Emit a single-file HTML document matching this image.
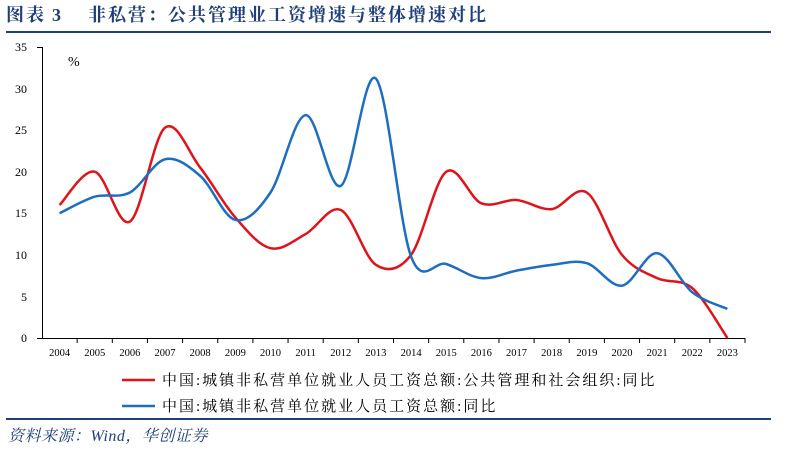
<!DOCTYPE html>
<html><head><meta charset="utf-8"><style>
body{margin:0;width:795px;height:448px;background:#fff;overflow:hidden;font-family:"Liberation Serif","Noto Serif CJK SC",serif}
</style></head><body>
<svg width="795" height="448" xmlns="http://www.w3.org/2000/svg" id="s">
<g font-family="'Liberation Serif','Noto Serif CJK SC',serif" font-weight="bold" font-size="18" fill="#1f3f7a">
<text x="6" y="21" letter-spacing="2">图表</text>
<text x="52" y="21">3</text>
<text x="88" y="21" letter-spacing="2">非私营：公共管理业工资增速与整体增速对比</text>
</g>
<rect x="6" y="31" width="765" height="2" fill="#1f3f7a"/>
<g font-size="12" fill="#000" text-anchor="end" font-family="'Liberation Serif',serif">
<text x="27" y="51">35</text><text x="27" y="93">30</text><text x="27" y="134">25</text><text x="27" y="176">20</text><text x="27" y="217">15</text><text x="27" y="259">10</text><text x="27" y="301">5</text><text x="27" y="342">0</text>
</g>
<text x="68" y="66" font-size="14" font-family="'Liberation Serif',serif">%</text>
<g stroke="#000" stroke-width="1" fill="none">
<line x1="42.5" y1="47" x2="42.5" y2="338"/>
<line x1="37" y1="47.5" x2="42" y2="47.5"/>
<line x1="37" y1="338.5" x2="745" y2="338.5"/>
</g>
<g id="g1"></g>
<path id="red" fill="none" stroke="#e0131a" stroke-width="2.5"/>
<path id="blue" fill="none" stroke="#1e6ec0" stroke-width="2.5"/>
<line x1="122" y1="380" x2="155" y2="380" stroke="#e0131a" stroke-width="2.5"/>
<line x1="122" y1="406" x2="155" y2="406" stroke="#1e6ec0" stroke-width="2.5"/>
<text x="162" y="385" font-size="15" letter-spacing="2">中国:城镇非私营单位就业人员工资总额:公共管理和社会组织:同比</text>
<text x="162" y="411" font-size="15" letter-spacing="2">中国:城镇非私营单位就业人员工资总额:同比</text>
<rect x="6" y="418" width="765" height="2" fill="#1f3f7a"/>
<text x="8" y="441" font-size="16" font-style="italic" fill="#1f3f7a" letter-spacing="0.5">资料来源：Wind，华创证券</text>
</svg>
<script>
var ns="http://www.w3.org/2000/svg",g=document.getElementById('g1');
var step=35.15,x0=42;
for(var i=0;i<20;i++){
 var l=document.createElementNS(ns,'line');var xx=x0+step*(i+1);
 l.setAttribute('x1',xx);l.setAttribute('x2',xx);l.setAttribute('y1',338);l.setAttribute('y2',343);l.setAttribute('stroke','#000');g.appendChild(l);
 var t=document.createElementNS(ns,'text');t.setAttribute('x',x0+step*(i+.5));t.setAttribute('y',356);t.setAttribute('font-size','10.5');t.setAttribute('text-anchor','middle');t.textContent=2004+i;g.appendChild(t);
}
var R=[16,20,14,25.3,20.5,14.5,10.8,12.5,15.4,8.8,10,20,16.2,16.6,15.5,17.5,10,7.2,6,0];
var B=[15,17,17.5,21.5,19.5,14.2,17.5,26.8,18.3,31.2,9.8,8.9,7.2,8.1,8.8,9,6.3,10.2,5.5,3.5];
function path(d){var p=d.map(function(v,i){return [x0+step*(i+.5),338-v*8.314]});
 var s="M"+p[0][0]+","+p[0][1];
 for(var i=0;i<p.length-1;i++){var a=p[Math.max(i-1,0)],b=p[i],c=p[i+1],e=p[Math.min(i+2,p.length-1)];
 s+=" C"+(b[0]+(c[0]-a[0])/6)+","+(b[1]+(c[1]-a[1])/6)+" "+(c[0]-(e[0]-b[0])/6)+","+(c[1]-(e[1]-b[1])/6)+" "+c[0]+","+c[1];}
 return s;}
document.getElementById('red').setAttribute('d',path(R));
document.getElementById('blue').setAttribute('d',path(B));
</script>
</body></html>
